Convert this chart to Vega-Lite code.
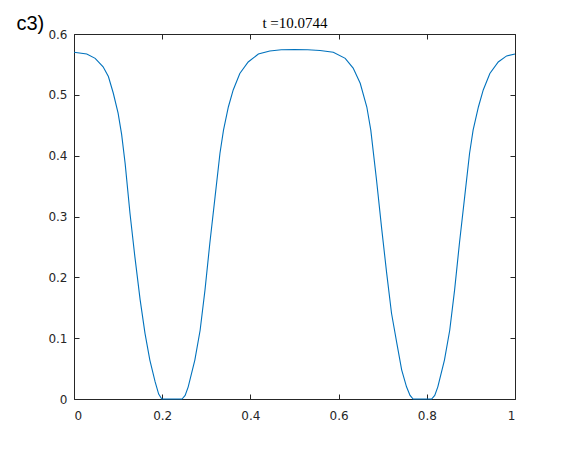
{
  "$schema": "https://vega.github.io/schema/vega-lite/v6.json",
  "autosize": {"type": "none"},
  "padding": {"left": 74, "top": 34, "right": 55, "bottom": 51},
  "width": 441,
  "height": 365,
  "background": "white",
  "config": {
    "view": {"stroke": "#262626", "strokeWidth": 1},
    "axis": {"grid": false, "domain": false, "tickColor": "#262626", "tickSize": -5, "labelColor": "#262626", "labelFont": "DejaVu Sans", "labelFontSize": 12, "titleFont": "DejaVu Sans"}
  },
  "data": {"values": [
    {"x": 0, "y": 0.570}, {"x": 0.029, "y": 0.567}, {"x": 0.048, "y": 0.560}, {"x": 0.066, "y": 0.546},
    {"x": 0.078, "y": 0.530}, {"x": 0.089, "y": 0.503}, {"x": 0.100, "y": 0.470}, {"x": 0.108, "y": 0.435},
    {"x": 0.116, "y": 0.387}, {"x": 0.127, "y": 0.305}, {"x": 0.138, "y": 0.234}, {"x": 0.150, "y": 0.163},
    {"x": 0.161, "y": 0.108}, {"x": 0.172, "y": 0.064}, {"x": 0.184, "y": 0.028}, {"x": 0.192, "y": 0.008},
    {"x": 0.199, "y": 0.0}, {"x": 0.245, "y": 0.0}, {"x": 0.252, "y": 0.006}, {"x": 0.259, "y": 0.020},
    {"x": 0.274, "y": 0.064}, {"x": 0.286, "y": 0.113}, {"x": 0.297, "y": 0.179}, {"x": 0.308, "y": 0.256},
    {"x": 0.320, "y": 0.333}, {"x": 0.331, "y": 0.404}, {"x": 0.339, "y": 0.442}, {"x": 0.350, "y": 0.480},
    {"x": 0.361, "y": 0.508}, {"x": 0.376, "y": 0.535}, {"x": 0.395, "y": 0.554}, {"x": 0.418, "y": 0.567},
    {"x": 0.444, "y": 0.572}, {"x": 0.470, "y": 0.574}, {"x": 0.500, "y": 0.5745}, {"x": 0.530, "y": 0.574},
    {"x": 0.558, "y": 0.573}, {"x": 0.588, "y": 0.570}, {"x": 0.615, "y": 0.560}, {"x": 0.633, "y": 0.544},
    {"x": 0.649, "y": 0.519}, {"x": 0.664, "y": 0.480}, {"x": 0.673, "y": 0.442}, {"x": 0.686, "y": 0.360},
    {"x": 0.698, "y": 0.278}, {"x": 0.709, "y": 0.207}, {"x": 0.720, "y": 0.141}, {"x": 0.732, "y": 0.092},
    {"x": 0.743, "y": 0.048}, {"x": 0.754, "y": 0.020}, {"x": 0.762, "y": 0.006}, {"x": 0.769, "y": 0.0},
    {"x": 0.811, "y": 0.0}, {"x": 0.818, "y": 0.006}, {"x": 0.825, "y": 0.020}, {"x": 0.840, "y": 0.064},
    {"x": 0.852, "y": 0.113}, {"x": 0.863, "y": 0.179}, {"x": 0.874, "y": 0.256}, {"x": 0.886, "y": 0.333},
    {"x": 0.897, "y": 0.404}, {"x": 0.905, "y": 0.442}, {"x": 0.917, "y": 0.480}, {"x": 0.928, "y": 0.508},
    {"x": 0.943, "y": 0.535}, {"x": 0.962, "y": 0.554}, {"x": 0.981, "y": 0.564}, {"x": 1.0, "y": 0.567}
  ]},
  "layer": [
    {
      "mark": {"type": "line", "color": "#0072BD", "strokeWidth": 1.1},
      "encoding": {
        "x": {"field": "x", "type": "quantitative", "scale": {"domain": [0, 1], "nice": false, "zero": false},
              "axis": {"orient": "bottom", "title": null, "values": [0, 0.2, 0.4, 0.6, 0.8, 1], "labelPadding": 16, "labelExpr": "datum.value == 0 ? '0' : datum.value == 1 ? '1' : format(datum.value, '.1f')"}},
        "y": {"field": "y", "type": "quantitative", "scale": {"domain": [0, 0.6], "nice": false, "zero": false},
              "axis": {"orient": "left", "values": [0, 0.1, 0.2, 0.3, 0.4, 0.5, 0.6], "labelPadding": 12, "labelExpr": "datum.value == 0 ? '0' : format(datum.value, '.1f')",
                       "title": "c3)", "titleAngle": 0, "titleX": -58, "titleY": -5, "titleAlign": "left", "titleBaseline": "alphabetic", "titleFontSize": 20, "titleFontWeight": "normal", "titleColor": "#000000", "titleFont": "Liberation Sans"}}
      }
    },
    {
      "mark": {"type": "line", "opacity": 0},
      "encoding": {
        "x": {"field": "x", "type": "quantitative",
              "axis": {"orient": "top", "labels": false, "values": [0, 0.2, 0.4, 0.6, 0.8, 1],
                       "title": "t =10.0744", "titleFont": "Liberation Serif", "titleFontSize": 15, "titleFontWeight": "normal", "titleColor": "#000000", "titleX": 220.5, "titleY": -7, "titleAlign": "center", "titleBaseline": "alphabetic"}},
        "y": {"field": "y", "type": "quantitative", "axis": {"orient": "right", "title": null, "labels": false, "values": [0, 0.1, 0.2, 0.3, 0.4, 0.5, 0.6]}}
      }
    }
  ],
  "resolve": {"axis": {"x": "independent", "y": "independent"}}
}
